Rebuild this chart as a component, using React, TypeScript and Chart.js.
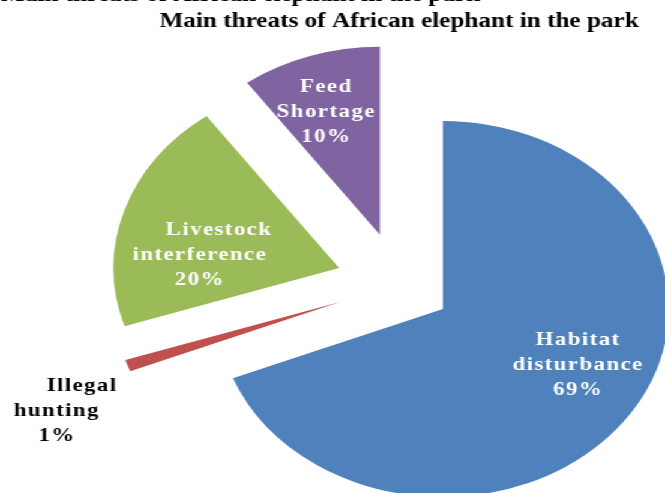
import React, { useEffect, useRef } from "react";
import { Chart, registerables } from "chart.js";

Chart.register(...registerables);

// ---- data ----
const categories = ["Habitat disturbance", "Illegal hunting", "Livestock interference", "Feed Shortage"];
const values = [69, 1, 20, 10];
const labelNameLines = [["Habitat", "disturbance"], ["Illegal", "hunting"], ["Livestock", "interference"], ["Feed", "Shortage"]];
const sliceColors = ["#4F81BD", "#C0504D", "#9BBB59", "#8064A2"];
const labelColors = ["#ffffff", "#000000", "#ffffff", "#ffffff"];
const titleText = "Main threats of African elephant in the park";
const captionText = "Figure 2: Main threats of African elephant in the park";

// ---- layout / style ----
const CANVAS_W = 554;
const CANVAS_H = 493;
const STRETCH_X = 665 / CANVAS_W;
const FONT = "'Liberation Serif', 'Times New Roman', serif";
const explode = [44, 52.3, 52.5, 52];
const labelPlacement = [
  { dist: 125, dAngle: -8.6, dx: [0, 0, 0] },
  { dist: 259, dAngle: -4.6, dx: [21, 0, 0] },
  { dist: 117, dAngle: -10.6, dx: [16, 0, 0] },
  { dist: 133, dAngle: -1.6, dx: [0, 0, 0] },
];
const LABEL_SIZE = 19;
const LINE_H = 25;

const explodePlugin = {
  id: "explodeSlices",
  beforeDatasetDraw(chart: any, args: any) {
    const ctx = chart.ctx;
    args.meta.data.forEach((arc: any, i: number) => {
      const mid = (arc.startAngle + arc.endAngle) / 2;
      ctx.save();
      ctx.translate(Math.cos(mid) * explode[i], Math.sin(mid) * explode[i]);
      arc.draw(ctx);
      ctx.restore();
    });
    return false;
  },
  afterDatasetsDraw(chart: any) {
    const ctx = chart.ctx;
    const meta = chart.getDatasetMeta(0);
    const total = values.reduce((a, b) => a + b, 0);
    meta.data.forEach((arc: any, i: number) => {
      const mid = (arc.startAngle + arc.endAngle) / 2;
      const p = labelPlacement[i];
      const ang = mid + (p.dAngle * Math.PI) / 180;
      const cx = arc.x + Math.cos(mid) * explode[i] + Math.cos(ang) * p.dist;
      const cy = arc.y + Math.sin(mid) * explode[i] + Math.sin(ang) * p.dist;
      const lines = [...labelNameLines[i], `${Math.round((values[i] / total) * 100)}%`];
      ctx.save();
      ctx.font = `bold ${LABEL_SIZE}px ${FONT}`;
      (ctx as any).letterSpacing = "1.2px";
      ctx.fillStyle = labelColors[i];
      ctx.textAlign = "center";
      ctx.textBaseline = "alphabetic";
      lines.forEach((ln, j) => {
        const y = cy + (j - (lines.length - 1) / 2) * LINE_H + 7;
        ctx.fillText(ln, cx + p.dx[j], y);
      });
      ctx.restore();
    });
  },
  afterDraw(chart: any) {
    const ctx = chart.ctx;
    ctx.save();
    ctx.font = `bold 21px ${FONT}`;
    ctx.fillStyle = "#000";
    ctx.textAlign = "right";
    ctx.textBaseline = "alphabetic";
    ctx.fillText(captionText, 400, 1);
    ctx.restore();
  },
};

export default function App() {
  const ref = useRef<HTMLCanvasElement | null>(null);
  useEffect(() => {
    if (!ref.current) return;
    const chart = new Chart(ref.current, {
      type: "pie",
      data: {
        labels: categories,
        datasets: [
          {
            data: values,
            backgroundColor: sliceColors,
            borderWidth: 0,
          },
        ],
      },
      options: {
        animation: false,
        responsive: false,
        radius: 188,
        layout: { padding: { left: 111, right: 0, top: 0, bottom: 0 } },
        plugins: {
          legend: { display: false },
          tooltip: { enabled: false },
          title: {
            display: true,
            text: titleText,
            color: "#000",
            font: { family: FONT, size: 21, weight: "bold" },
            padding: { top: 9, bottom: 41.4 },
          },
        },
      } as any,
      plugins: [explodePlugin],
    });
    return () => chart.destroy();
  }, []);
  return (
    <div
      style={{
        position: "fixed",
        left: 0,
        top: 0,
        width: CANVAS_W,
        height: CANVAS_H,
        background: "#fff",
        transform: `scaleX(${STRETCH_X})`,
        transformOrigin: "0 0",
      }}
    >
      <canvas ref={ref} width={CANVAS_W} height={CANVAS_H} style={{ display: "block" }} />
    </div>
  );
}
